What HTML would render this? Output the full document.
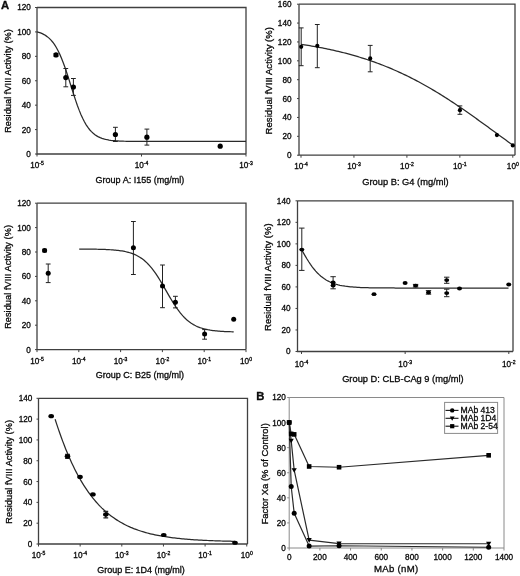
<!DOCTYPE html>
<html><head><meta charset="utf-8"><style>
html,body{margin:0;padding:0;background:#fff;}
body{width:520px;height:576px;overflow:hidden;}
svg{display:block;will-change:transform;font-family:"Liberation Sans", sans-serif;fill:#111;}
text{stroke:#000;stroke-width:0.3px;}
</style></head><body>
<svg width="520" height="576" viewBox="0 0 520 576">
<rect width="520" height="576" fill="#fff"/>
<path d="M37,7.5V154H246" stroke="#404040" stroke-width="1.3" fill="none"/>
<path d="M37,7.5H246V154" stroke="#404040" stroke-width="1.3" fill="none"/>
<path d="M35,154H37" stroke="#404040" stroke-width="1"/>
<text x="30.8" y="156.95" text-anchor="end" font-size="8.2">0</text>
<path d="M35,129.58H37" stroke="#404040" stroke-width="1"/>
<text x="30.8" y="132.54" text-anchor="end" font-size="8.2">20</text>
<path d="M35,105.17H37" stroke="#404040" stroke-width="1"/>
<text x="30.8" y="108.12" text-anchor="end" font-size="8.2">40</text>
<path d="M35,80.75H37" stroke="#404040" stroke-width="1"/>
<text x="30.8" y="83.7" text-anchor="end" font-size="8.2">60</text>
<path d="M35,56.33H37" stroke="#404040" stroke-width="1"/>
<text x="30.8" y="59.29" text-anchor="end" font-size="8.2">80</text>
<path d="M35,31.92H37" stroke="#404040" stroke-width="1"/>
<text x="30.8" y="34.87" text-anchor="end" font-size="8.2">100</text>
<path d="M35,7.5H37" stroke="#404040" stroke-width="1"/>
<text x="30.8" y="10.45" text-anchor="end" font-size="8.2">120</text>
<path d="M37,154V156.5" stroke="#404040" stroke-width="1"/>
<text x="37" y="168" text-anchor="middle" font-size="8.2">10<tspan font-size="5.08" dy="-3">-5</tspan></text>
<path d="M141.5,154V156.5" stroke="#404040" stroke-width="1"/>
<text x="141.5" y="168" text-anchor="middle" font-size="8.2">10<tspan font-size="5.08" dy="-3">-4</tspan></text>
<path d="M246,154V156.5" stroke="#404040" stroke-width="1"/>
<text x="246" y="168" text-anchor="middle" font-size="8.2">10<tspan font-size="5.08" dy="-3">-3</tspan></text>
<text transform="translate(10.8,132.85) rotate(-90)" font-size="9.2" textLength="103.73" lengthAdjust="spacing">Residual fVIII Activity (%)</text>
<text x="95.55" y="182.7" font-size="9" textLength="88.81" lengthAdjust="spacing">Group A: I155 (mg/ml)</text>
<text x="0.9" y="9" font-size="11.3" font-weight="bold">A</text>
<path d="M37,31.84 L38.76,32.35 L40.51,32.95 L42.27,33.69 L44.03,34.57 L45.78,35.62 L47.54,36.89 L49.29,38.39 L51.05,40.16 L52.81,42.25 L54.56,44.68 L56.32,47.5 L58.08,50.73 L59.83,54.38 L61.59,58.45 L63.34,62.94 L65.1,67.81 L66.86,72.99 L68.61,78.41 L70.37,83.96 L72.13,89.55 L73.88,95.06 L75.64,100.38 L77.39,105.43 L79.15,110.13 L80.91,114.44 L82.66,118.32 L84.42,121.78 L86.18,124.82 L87.93,127.46 L89.69,129.73 L91.45,131.68 L93.2,133.32 L94.96,134.71 L96.71,135.88 L98.47,136.85 L100.23,137.66 L101.98,138.34 L103.74,138.89 L105.5,139.35 L107.25,139.74 L109.01,140.05 L110.76,140.31 L112.52,140.52 L114.28,140.69 L116.03,140.84 L117.79,140.95 L119.55,141.05 L121.3,141.13 L123.06,141.19 L124.82,141.25 L126.57,141.29 L128.33,141.33 L130.08,141.36 L131.84,141.38 L133.6,141.4 L135.35,141.42 L137.11,141.43 L138.87,141.44 L140.62,141.45 L142.38,141.46 L144.13,141.46 L145.89,141.47 L147.65,141.47 L149.4,141.47 L151.16,141.48 L152.92,141.48 L154.67,141.48 L156.43,141.48 L158.18,141.48 L159.94,141.48 L161.7,141.48 L163.45,141.48 L165.21,141.49 L166.97,141.49 L168.72,141.49 L170.48,141.49 L172.24,141.49 L173.99,141.49 L175.75,141.49 L177.5,141.49 L179.26,141.49 L181.02,141.49 L182.77,141.49 L184.53,141.49 L186.29,141.49 L188.04,141.49 L189.8,141.49 L191.55,141.49 L193.31,141.49 L195.07,141.49 L196.82,141.49 L198.58,141.49 L200.34,141.49 L202.09,141.49 L203.85,141.49 L205.61,141.49 L207.36,141.49 L209.12,141.49 L210.87,141.49 L212.63,141.49 L214.39,141.49 L216.14,141.49 L217.9,141.49 L219.66,141.49 L221.41,141.49 L223.17,141.49 L224.92,141.49 L226.68,141.49 L228.44,141.49 L230.19,141.49 L231.95,141.49 L233.71,141.49 L235.46,141.49 L237.22,141.49 L238.97,141.49 L240.73,141.49 L242.49,141.49 L244.24,141.49 L246,141.49" stroke="#2a2a2a" stroke-width="1.25" fill="none"/>
<path d="M56,53.6V56.3M53.6,53.6H58.4M53.6,56.3H58.4" stroke="#222" stroke-width="1" fill="none"/>
<circle cx="56" cy="54.9" r="2.6" fill="#000"/>
<path d="M65.8,68.5V86.8M63.4,68.5H68.2M63.4,86.8H68.2" stroke="#222" stroke-width="1" fill="none"/>
<circle cx="65.8" cy="77.6" r="2.6" fill="#000"/>
<path d="M73.4,78.5V95.4M71,78.5H75.8M71,95.4H75.8" stroke="#222" stroke-width="1" fill="none"/>
<circle cx="73.4" cy="87" r="2.6" fill="#000"/>
<path d="M115.4,127.3V141.5M113,127.3H117.8M113,141.5H117.8" stroke="#222" stroke-width="1" fill="none"/>
<circle cx="115.4" cy="134.5" r="2.6" fill="#000"/>
<path d="M146.9,129.1V145.1M144.5,129.1H149.3M144.5,145.1H149.3" stroke="#222" stroke-width="1" fill="none"/>
<circle cx="146.9" cy="137.2" r="2.6" fill="#000"/>
<circle cx="220.2" cy="146.2" r="2.6" fill="#000"/>
<path d="M299,4.2V155.2H515" stroke="#404040" stroke-width="1.3" fill="none"/>
<path d="M299,4.2H515V155.2" stroke="#404040" stroke-width="1.3" fill="none"/>
<path d="M297,155.2H299" stroke="#404040" stroke-width="1"/>
<text x="291.5" y="158.15" text-anchor="end" font-size="8.2">0</text>
<path d="M297,136.32H299" stroke="#404040" stroke-width="1"/>
<text x="291.5" y="139.28" text-anchor="end" font-size="8.2">20</text>
<path d="M297,117.45H299" stroke="#404040" stroke-width="1"/>
<text x="291.5" y="120.4" text-anchor="end" font-size="8.2">40</text>
<path d="M297,98.57H299" stroke="#404040" stroke-width="1"/>
<text x="291.5" y="101.53" text-anchor="end" font-size="8.2">60</text>
<path d="M297,79.7H299" stroke="#404040" stroke-width="1"/>
<text x="291.5" y="82.65" text-anchor="end" font-size="8.2">80</text>
<path d="M297,60.82H299" stroke="#404040" stroke-width="1"/>
<text x="291.5" y="63.78" text-anchor="end" font-size="8.2">100</text>
<path d="M297,41.95H299" stroke="#404040" stroke-width="1"/>
<text x="291.5" y="44.9" text-anchor="end" font-size="8.2">120</text>
<path d="M297,23.07H299" stroke="#404040" stroke-width="1"/>
<text x="291.5" y="26.03" text-anchor="end" font-size="8.2">140</text>
<path d="M297,4.2H299" stroke="#404040" stroke-width="1"/>
<text x="291.5" y="7.15" text-anchor="end" font-size="8.2">160</text>
<path d="M301,155.2V157.7" stroke="#404040" stroke-width="1"/>
<text x="301" y="169" text-anchor="middle" font-size="8.2">10<tspan font-size="5.08" dy="-3">-4</tspan></text>
<path d="M353.95,155.2V157.7" stroke="#404040" stroke-width="1"/>
<text x="353.95" y="169" text-anchor="middle" font-size="8.2">10<tspan font-size="5.08" dy="-3">-3</tspan></text>
<path d="M406.9,155.2V157.7" stroke="#404040" stroke-width="1"/>
<text x="406.9" y="169" text-anchor="middle" font-size="8.2">10<tspan font-size="5.08" dy="-3">-2</tspan></text>
<path d="M459.85,155.2V157.7" stroke="#404040" stroke-width="1"/>
<text x="459.85" y="169" text-anchor="middle" font-size="8.2">10<tspan font-size="5.08" dy="-3">-1</tspan></text>
<path d="M512.8,155.2V157.7" stroke="#404040" stroke-width="1"/>
<text x="512.8" y="169" text-anchor="middle" font-size="8.2">10<tspan font-size="5.08" dy="-3">0</tspan></text>
<text transform="translate(271.8,134.38) rotate(-90)" font-size="9.5" textLength="107.37" lengthAdjust="spacing">Residual fVIII Activity (%)</text>
<text x="362.23" y="184.7" font-size="9.3" textLength="86.44" lengthAdjust="spacing">Group B: G4 (mg/ml)</text>
<path d="M301,44.31 L302.78,44.57 L304.56,44.85 L306.34,45.13 L308.13,45.42 L309.91,45.71 L311.69,46.01 L313.47,46.32 L315.25,46.64 L317.03,46.96 L318.82,47.29 L320.6,47.63 L322.38,47.97 L324.16,48.32 L325.94,48.68 L327.72,49.05 L329.5,49.43 L331.29,49.82 L333.07,50.21 L334.85,50.61 L336.63,51.02 L338.41,51.44 L340.19,51.87 L341.97,52.31 L343.76,52.76 L345.54,53.22 L347.32,53.68 L349.1,54.16 L350.88,54.65 L352.66,55.15 L354.45,55.65 L356.23,56.17 L358.01,56.7 L359.79,57.24 L361.57,57.79 L363.35,58.35 L365.13,58.92 L366.92,59.51 L368.7,60.1 L370.48,60.71 L372.26,61.33 L374.04,61.96 L375.82,62.6 L377.61,63.25 L379.39,63.92 L381.17,64.6 L382.95,65.29 L384.73,65.99 L386.51,66.71 L388.29,67.44 L390.08,68.18 L391.86,68.93 L393.64,69.7 L395.42,70.48 L397.2,71.27 L398.98,72.07 L400.76,72.89 L402.55,73.72 L404.33,74.57 L406.11,75.42 L407.89,76.29 L409.67,77.18 L411.45,78.07 L413.24,78.98 L415.02,79.91 L416.8,80.84 L418.58,81.79 L420.36,82.75 L422.14,83.73 L423.92,84.71 L425.71,85.71 L427.49,86.73 L429.27,87.75 L431.05,88.79 L432.83,89.84 L434.61,90.9 L436.39,91.97 L438.18,93.06 L439.96,94.15 L441.74,95.26 L443.52,96.38 L445.3,97.51 L447.08,98.65 L448.87,99.8 L450.65,100.96 L452.43,102.13 L454.21,103.31 L455.99,104.5 L457.77,105.7 L459.55,106.91 L461.34,108.12 L463.12,109.35 L464.9,110.58 L466.68,111.82 L468.46,113.06 L470.24,114.31 L472.03,115.57 L473.81,116.84 L475.59,118.11 L477.37,119.38 L479.15,120.66 L480.93,121.94 L482.71,123.23 L484.5,124.52 L486.28,125.82 L488.06,127.11 L489.84,128.41 L491.62,129.71 L493.4,131.01 L495.18,132.32 L496.97,133.62 L498.75,134.92 L500.53,136.22 L502.31,137.52 L504.09,138.82 L505.87,140.12 L507.66,141.41 L509.44,142.71 L511.22,144 L513,145.28" stroke="#2a2a2a" stroke-width="1.25" fill="none"/>
<path d="M301.2,27.9V65.7M298.8,27.9H303.6M298.8,65.7H303.6" stroke="#222" stroke-width="1" fill="none"/>
<circle cx="301.2" cy="46.8" r="2.1" fill="#000"/>
<path d="M317.3,24.5V67.7M314.9,24.5H319.7M314.9,67.7H319.7" stroke="#222" stroke-width="1" fill="none"/>
<circle cx="317.3" cy="45.8" r="2.1" fill="#000"/>
<path d="M370.2,45.4V71.8M367.8,45.4H372.6M367.8,71.8H372.6" stroke="#222" stroke-width="1" fill="none"/>
<circle cx="370.2" cy="58.4" r="2.1" fill="#000"/>
<path d="M459.9,105.9V114.3M457.5,105.9H462.3M457.5,114.3H462.3" stroke="#222" stroke-width="1" fill="none"/>
<circle cx="459.9" cy="110.2" r="2.1" fill="#000"/>
<circle cx="496.9" cy="135.1" r="2.1" fill="#000"/>
<circle cx="512.8" cy="145.4" r="2.1" fill="#000"/>
<path d="M37,203.2V349.6H246" stroke="#404040" stroke-width="1.3" fill="none"/>
<path d="M37,203.2H246V349.6" stroke="#404040" stroke-width="1.3" fill="none"/>
<path d="M35,349.6H37" stroke="#404040" stroke-width="1"/>
<text x="30.8" y="352.55" text-anchor="end" font-size="8.2">0</text>
<path d="M35,325.2H37" stroke="#404040" stroke-width="1"/>
<text x="30.8" y="328.15" text-anchor="end" font-size="8.2">20</text>
<path d="M35,300.8H37" stroke="#404040" stroke-width="1"/>
<text x="30.8" y="303.75" text-anchor="end" font-size="8.2">40</text>
<path d="M35,276.4H37" stroke="#404040" stroke-width="1"/>
<text x="30.8" y="279.35" text-anchor="end" font-size="8.2">60</text>
<path d="M35,252H37" stroke="#404040" stroke-width="1"/>
<text x="30.8" y="254.95" text-anchor="end" font-size="8.2">80</text>
<path d="M35,227.6H37" stroke="#404040" stroke-width="1"/>
<text x="30.8" y="230.55" text-anchor="end" font-size="8.2">100</text>
<path d="M35,203.2H37" stroke="#404040" stroke-width="1"/>
<text x="30.8" y="206.15" text-anchor="end" font-size="8.2">120</text>
<path d="M37,349.6V352.1" stroke="#404040" stroke-width="1"/>
<text x="37" y="363.5" text-anchor="middle" font-size="8.2">10<tspan font-size="5.08" dy="-3">-5</tspan></text>
<path d="M78.8,349.6V352.1" stroke="#404040" stroke-width="1"/>
<text x="78.8" y="363.5" text-anchor="middle" font-size="8.2">10<tspan font-size="5.08" dy="-3">-4</tspan></text>
<path d="M120.6,349.6V352.1" stroke="#404040" stroke-width="1"/>
<text x="120.6" y="363.5" text-anchor="middle" font-size="8.2">10<tspan font-size="5.08" dy="-3">-3</tspan></text>
<path d="M162.4,349.6V352.1" stroke="#404040" stroke-width="1"/>
<text x="162.4" y="363.5" text-anchor="middle" font-size="8.2">10<tspan font-size="5.08" dy="-3">-2</tspan></text>
<path d="M204.2,349.6V352.1" stroke="#404040" stroke-width="1"/>
<text x="204.2" y="363.5" text-anchor="middle" font-size="8.2">10<tspan font-size="5.08" dy="-3">-1</tspan></text>
<path d="M246,349.6V352.1" stroke="#404040" stroke-width="1"/>
<text x="246" y="363.5" text-anchor="middle" font-size="8.2">10<tspan font-size="5.08" dy="-3">0</tspan></text>
<text transform="translate(10.8,328.85) rotate(-90)" font-size="9.2" textLength="103.83" lengthAdjust="spacing">Residual fVIII Activity (%)</text>
<text x="95.75" y="378.3" font-size="9" textLength="88.31" lengthAdjust="spacing">Group C: B25 (mg/ml)</text>
<path d="M79.2,249.05 L80.5,249.05 L81.8,249.06 L83.09,249.07 L84.39,249.08 L85.69,249.09 L86.99,249.1 L88.29,249.11 L89.59,249.12 L90.88,249.14 L92.18,249.16 L93.48,249.17 L94.78,249.2 L96.08,249.22 L97.38,249.25 L98.67,249.28 L99.97,249.31 L101.27,249.34 L102.57,249.39 L103.87,249.43 L105.17,249.48 L106.46,249.54 L107.76,249.6 L109.06,249.67 L110.36,249.75 L111.66,249.84 L112.96,249.93 L114.25,250.04 L115.55,250.16 L116.85,250.29 L118.15,250.44 L119.45,250.6 L120.75,250.79 L122.04,250.99 L123.34,251.21 L124.64,251.46 L125.94,251.74 L127.24,252.05 L128.54,252.38 L129.83,252.76 L131.13,253.17 L132.43,253.63 L133.73,254.13 L135.03,254.69 L136.33,255.29 L137.62,255.96 L138.92,256.69 L140.22,257.49 L141.52,258.36 L142.82,259.31 L144.12,260.34 L145.41,261.46 L146.71,262.66 L148.01,263.95 L149.31,265.34 L150.61,266.83 L151.91,268.41 L153.2,270.08 L154.5,271.85 L155.8,273.7 L157.1,275.64 L158.4,277.66 L159.7,279.75 L160.99,281.9 L162.29,284.09 L163.59,286.33 L164.89,288.59 L166.19,290.86 L167.49,293.13 L168.78,295.38 L170.08,297.6 L171.38,299.79 L172.68,301.92 L173.98,303.99 L175.28,305.99 L176.57,307.9 L177.87,309.74 L179.17,311.48 L180.47,313.13 L181.77,314.68 L183.07,316.14 L184.36,317.5 L185.66,318.77 L186.96,319.95 L188.26,321.04 L189.56,322.05 L190.86,322.97 L192.15,323.83 L193.45,324.61 L194.75,325.32 L196.05,325.97 L197.35,326.56 L198.65,327.1 L199.94,327.59 L201.24,328.03 L202.54,328.44 L203.84,328.8 L205.14,329.13 L206.44,329.43 L207.73,329.7 L209.03,329.94 L210.33,330.16 L211.63,330.35 L212.93,330.53 L214.23,330.69 L215.52,330.83 L216.82,330.96 L218.12,331.08 L219.42,331.18 L220.72,331.28 L222.02,331.36 L223.31,331.44 L224.61,331.51 L225.91,331.57 L227.21,331.62 L228.51,331.67 L229.81,331.72 L231.1,331.75 L232.4,331.79 L233.7,331.82" stroke="#2a2a2a" stroke-width="1.25" fill="none"/>
<path d="M44.6,249.2V251.8M42.2,249.2H47M42.2,251.8H47" stroke="#222" stroke-width="1" fill="none"/>
<circle cx="44.6" cy="250.6" r="2.5" fill="#000"/>
<path d="M48.2,264V282.6M45.8,264H50.6M45.8,282.6H50.6" stroke="#222" stroke-width="1" fill="none"/>
<circle cx="48.2" cy="273.3" r="2.5" fill="#000"/>
<path d="M133.4,221.5V274.5M131,221.5H135.8M131,274.5H135.8" stroke="#222" stroke-width="1" fill="none"/>
<circle cx="133.4" cy="247.7" r="2.5" fill="#000"/>
<path d="M162.5,265V307.7M160.1,265H164.9M160.1,307.7H164.9" stroke="#222" stroke-width="1" fill="none"/>
<circle cx="162.5" cy="286.1" r="2.5" fill="#000"/>
<path d="M175.4,296.3V307.9M173,296.3H177.8M173,307.9H177.8" stroke="#222" stroke-width="1" fill="none"/>
<circle cx="175.4" cy="302.3" r="2.5" fill="#000"/>
<path d="M204.6,329.6V339.2M202.2,329.6H207M202.2,339.2H207" stroke="#222" stroke-width="1" fill="none"/>
<circle cx="204.6" cy="334" r="2.5" fill="#000"/>
<circle cx="233.7" cy="319.2" r="2.5" fill="#000"/>
<path d="M297.5,200.8V351.5H513" stroke="#404040" stroke-width="1.3" fill="none"/>
<path d="M297.5,200.8H513V351.5" stroke="#404040" stroke-width="1.3" fill="none"/>
<path d="M295.5,351.5H297.5" stroke="#404040" stroke-width="1"/>
<text x="290.5" y="354.45" text-anchor="end" font-size="8.2">0</text>
<path d="M295.5,329.97H297.5" stroke="#404040" stroke-width="1"/>
<text x="290.5" y="332.92" text-anchor="end" font-size="8.2">20</text>
<path d="M295.5,308.44H297.5" stroke="#404040" stroke-width="1"/>
<text x="290.5" y="311.39" text-anchor="end" font-size="8.2">40</text>
<path d="M295.5,286.91H297.5" stroke="#404040" stroke-width="1"/>
<text x="290.5" y="289.87" text-anchor="end" font-size="8.2">60</text>
<path d="M295.5,265.39H297.5" stroke="#404040" stroke-width="1"/>
<text x="290.5" y="268.34" text-anchor="end" font-size="8.2">80</text>
<path d="M295.5,243.86H297.5" stroke="#404040" stroke-width="1"/>
<text x="290.5" y="246.81" text-anchor="end" font-size="8.2">100</text>
<path d="M295.5,222.33H297.5" stroke="#404040" stroke-width="1"/>
<text x="290.5" y="225.28" text-anchor="end" font-size="8.2">120</text>
<path d="M295.5,200.8H297.5" stroke="#404040" stroke-width="1"/>
<text x="290.5" y="203.75" text-anchor="end" font-size="8.2">140</text>
<path d="M301.5,351.5V354" stroke="#404040" stroke-width="1"/>
<text x="301.5" y="366.5" text-anchor="middle" font-size="8.2">10<tspan font-size="5.08" dy="-3">-4</tspan></text>
<path d="M405.15,351.5V354" stroke="#404040" stroke-width="1"/>
<text x="405.15" y="366.5" text-anchor="middle" font-size="8.2">10<tspan font-size="5.08" dy="-3">-3</tspan></text>
<path d="M508.8,351.5V354" stroke="#404040" stroke-width="1"/>
<text x="508.8" y="366.5" text-anchor="middle" font-size="8.2">10<tspan font-size="5.08" dy="-3">-2</tspan></text>
<text transform="translate(270.5,330.98) rotate(-90)" font-size="9.5" textLength="107.67" lengthAdjust="spacing">Residual fVIII Activity (%)</text>
<text x="342.13" y="381.5" font-size="9.3" textLength="121.54" lengthAdjust="spacing">Group D: CLB-CAg 9 (mg/ml)</text>
<path d="M301.8,249.94 L303.54,253.08 L305.27,256.11 L307.01,259.02 L308.75,261.77 L310.48,264.36 L312.22,266.77 L313.96,269.01 L315.7,271.07 L317.43,272.95 L319.17,274.66 L320.91,276.2 L322.64,277.59 L324.38,278.84 L326.12,279.95 L327.85,280.93 L329.59,281.81 L331.33,282.59 L333.07,283.27 L334.8,283.87 L336.54,284.4 L338.28,284.86 L340.01,285.27 L341.75,285.63 L343.49,285.94 L345.22,286.21 L346.96,286.44 L348.7,286.65 L350.44,286.83 L352.17,286.99 L353.91,287.12 L355.65,287.24 L357.38,287.35 L359.12,287.44 L360.86,287.51 L362.59,287.58 L364.33,287.64 L366.07,287.69 L367.81,287.74 L369.54,287.77 L371.28,287.81 L373.02,287.84 L374.75,287.86 L376.49,287.88 L378.23,287.9 L379.96,287.92 L381.7,287.93 L383.44,287.95 L385.17,287.96 L386.91,287.97 L388.65,287.98 L390.39,287.98 L392.12,287.99 L393.86,287.99 L395.6,288 L397.33,288 L399.07,288.01 L400.81,288.01 L402.54,288.01 L404.28,288.01 L406.02,288.02 L407.76,288.02 L409.49,288.02 L411.23,288.02 L412.97,288.02 L414.7,288.02 L416.44,288.02 L418.18,288.02 L419.91,288.02 L421.65,288.02 L423.39,288.03 L425.13,288.03 L426.86,288.03 L428.6,288.03 L430.34,288.03 L432.07,288.03 L433.81,288.03 L435.55,288.03 L437.28,288.03 L439.02,288.03 L440.76,288.03 L442.49,288.03 L444.23,288.03 L445.97,288.03 L447.71,288.03 L449.44,288.03 L451.18,288.03 L452.92,288.03 L454.65,288.03 L456.39,288.03 L458.13,288.03 L459.86,288.03 L461.6,288.03 L463.34,288.03 L465.08,288.03 L466.81,288.03 L468.55,288.03 L470.29,288.03 L472.02,288.03 L473.76,288.03 L475.5,288.03 L477.23,288.03 L478.97,288.03 L480.71,288.03 L482.45,288.03 L484.18,288.03 L485.92,288.03 L487.66,288.03 L489.39,288.03 L491.13,288.03 L492.87,288.03 L494.6,288.03 L496.34,288.03 L498.08,288.03 L499.82,288.03 L501.55,288.03 L503.29,288.03 L505.03,288.03 L506.76,288.03 L508.5,288.03" stroke="#2a2a2a" stroke-width="1.25" fill="none"/>
<path d="M301.8,228.1V270.4M299.1,228.1H304.5M299.1,270.4H304.5" stroke="#222" stroke-width="1" fill="none"/>
<ellipse cx="301.8" cy="249.6" rx="2.5" ry="1.9" fill="#000"/>
<path d="M333.1,276.7V288.8M330.4,276.7H335.8M330.4,288.8H335.8" stroke="#222" stroke-width="1" fill="none"/>
<ellipse cx="333.1" cy="282.5" rx="2.5" ry="1.9" fill="#000"/>
<ellipse cx="333.1" cy="285.5" rx="2.5" ry="1.9" fill="#000"/>
<ellipse cx="374" cy="294.2" rx="2.5" ry="1.9" fill="#000"/>
<ellipse cx="405.1" cy="283" rx="2.5" ry="1.9" fill="#000"/>
<path d="M415.6,284.4V287M412.9,284.4H418.3M412.9,287H418.3" stroke="#222" stroke-width="1" fill="none"/>
<ellipse cx="415.6" cy="285.6" rx="2.5" ry="1.9" fill="#000"/>
<path d="M428.5,290.6V294.2M425.8,290.6H431.2M425.8,294.2H431.2" stroke="#222" stroke-width="1" fill="none"/>
<ellipse cx="428.5" cy="292.4" rx="2.5" ry="1.9" fill="#000"/>
<path d="M446.7,277.2V283.3M444,277.2H449.4M444,283.3H449.4" stroke="#222" stroke-width="1" fill="none"/>
<ellipse cx="446.7" cy="280.1" rx="2.5" ry="1.9" fill="#000"/>
<path d="M446.7,289.2V296.7M444,289.2H449.4M444,296.7H449.4" stroke="#222" stroke-width="1" fill="none"/>
<ellipse cx="446.7" cy="293.1" rx="2.5" ry="1.9" fill="#000"/>
<ellipse cx="459.5" cy="288.5" rx="2.5" ry="1.9" fill="#000"/>
<ellipse cx="508.75" cy="284.5" rx="2.5" ry="1.9" fill="#000"/>
<path d="M38.5,398.3V544H247.5" stroke="#404040" stroke-width="1.3" fill="none"/>
<path d="M38.5,398.3H247.5V544" stroke="#404040" stroke-width="1.3" fill="none"/>
<path d="M36.5,544H38.5" stroke="#404040" stroke-width="1"/>
<text x="32.3" y="546.95" text-anchor="end" font-size="8.2">0</text>
<path d="M36.5,523.19H38.5" stroke="#404040" stroke-width="1"/>
<text x="32.3" y="526.14" text-anchor="end" font-size="8.2">20</text>
<path d="M36.5,502.37H38.5" stroke="#404040" stroke-width="1"/>
<text x="32.3" y="505.32" text-anchor="end" font-size="8.2">40</text>
<path d="M36.5,481.56H38.5" stroke="#404040" stroke-width="1"/>
<text x="32.3" y="484.51" text-anchor="end" font-size="8.2">60</text>
<path d="M36.5,460.74H38.5" stroke="#404040" stroke-width="1"/>
<text x="32.3" y="463.69" text-anchor="end" font-size="8.2">80</text>
<path d="M36.5,439.93H38.5" stroke="#404040" stroke-width="1"/>
<text x="32.3" y="442.88" text-anchor="end" font-size="8.2">100</text>
<path d="M36.5,419.11H38.5" stroke="#404040" stroke-width="1"/>
<text x="32.3" y="422.07" text-anchor="end" font-size="8.2">120</text>
<path d="M36.5,398.3H38.5" stroke="#404040" stroke-width="1"/>
<text x="32.3" y="401.25" text-anchor="end" font-size="8.2">140</text>
<path d="M38.5,544V546.5" stroke="#404040" stroke-width="1"/>
<text x="38.5" y="558" text-anchor="middle" font-size="8.2">10<tspan font-size="5.08" dy="-3">-5</tspan></text>
<path d="M80.15,544V546.5" stroke="#404040" stroke-width="1"/>
<text x="80.15" y="558" text-anchor="middle" font-size="8.2">10<tspan font-size="5.08" dy="-3">-4</tspan></text>
<path d="M121.8,544V546.5" stroke="#404040" stroke-width="1"/>
<text x="121.8" y="558" text-anchor="middle" font-size="8.2">10<tspan font-size="5.08" dy="-3">-3</tspan></text>
<path d="M163.45,544V546.5" stroke="#404040" stroke-width="1"/>
<text x="163.45" y="558" text-anchor="middle" font-size="8.2">10<tspan font-size="5.08" dy="-3">-2</tspan></text>
<path d="M205.1,544V546.5" stroke="#404040" stroke-width="1"/>
<text x="205.1" y="558" text-anchor="middle" font-size="8.2">10<tspan font-size="5.08" dy="-3">-1</tspan></text>
<path d="M246.75,544V546.5" stroke="#404040" stroke-width="1"/>
<text x="246.75" y="558" text-anchor="middle" font-size="8.2">10<tspan font-size="5.08" dy="-3">0</tspan></text>
<text transform="translate(11.8,523.65) rotate(-90)" font-size="9.2" textLength="103.63" lengthAdjust="spacing">Residual fVIII Activity (%)</text>
<text x="97.35" y="572.6" font-size="9" textLength="87.41" lengthAdjust="spacing">Group E: 1D4 (mg/ml)</text>
<path d="M55.1,419.19 L56.61,423.88 L58.12,428.41 L59.64,432.8 L61.15,437.04 L62.66,441.13 L64.17,445.09 L65.68,448.91 L67.19,452.6 L68.71,456.16 L70.22,459.59 L71.73,462.9 L73.24,466.09 L74.75,469.16 L76.26,472.12 L77.78,474.97 L79.29,477.71 L80.8,480.35 L82.31,482.89 L83.82,485.33 L85.34,487.67 L86.85,489.93 L88.36,492.1 L89.87,494.18 L91.38,496.18 L92.89,498.1 L94.41,499.95 L95.92,501.72 L97.43,503.42 L98.94,505.05 L100.45,506.62 L101.96,508.12 L103.48,509.56 L104.99,510.94 L106.5,512.27 L108.01,513.54 L109.52,514.75 L111.04,515.92 L112.55,517.04 L114.06,518.11 L115.57,519.14 L117.08,520.12 L118.59,521.07 L120.11,521.97 L121.62,522.83 L123.13,523.66 L124.64,524.46 L126.15,525.22 L127.66,525.94 L129.18,526.64 L130.69,527.31 L132.2,527.94 L133.71,528.56 L135.22,529.14 L136.74,529.7 L138.25,530.24 L139.76,530.75 L141.27,531.24 L142.78,531.71 L144.29,532.16 L145.81,532.59 L147.32,533 L148.83,533.39 L150.34,533.77 L151.85,534.13 L153.36,534.47 L154.88,534.8 L156.39,535.12 L157.9,535.42 L159.41,535.71 L160.92,535.98 L162.44,536.25 L163.95,536.5 L165.46,536.74 L166.97,536.97 L168.48,537.19 L169.99,537.4 L171.51,537.6 L173.02,537.79 L174.53,537.98 L176.04,538.16 L177.55,538.32 L179.06,538.49 L180.58,538.64 L182.09,538.79 L183.6,538.93 L185.11,539.06 L186.62,539.19 L188.14,539.31 L189.65,539.43 L191.16,539.54 L192.67,539.65 L194.18,539.76 L195.69,539.85 L197.21,539.95 L198.72,540.04 L200.23,540.12 L201.74,540.21 L203.25,540.28 L204.76,540.36 L206.28,540.43 L207.79,540.5 L209.3,540.57 L210.81,540.63 L212.32,540.69 L213.84,540.75 L215.35,540.8 L216.86,540.85 L218.37,540.9 L219.88,540.95 L221.39,541 L222.91,541.04 L224.42,541.08 L225.93,541.12 L227.44,541.16 L228.95,541.2 L230.46,541.23 L231.98,541.26 L233.49,541.3 L235,541.33" stroke="#2a2a2a" stroke-width="1.25" fill="none"/>
<ellipse cx="51.2" cy="416.2" rx="2.8" ry="2.1" fill="#000"/>
<path d="M67.5,454.5V458.3M65.1,454.5H69.9M65.1,458.3H69.9" stroke="#222" stroke-width="1.4" fill="none"/>
<ellipse cx="67.5" cy="456.3" rx="2.8" ry="2.1" fill="#000"/>
<ellipse cx="80" cy="476.9" rx="2.8" ry="2.1" fill="#000"/>
<ellipse cx="92.9" cy="494.4" rx="2.8" ry="2.1" fill="#000"/>
<path d="M105.8,511.5V517.9M103.4,511.5H108.2M103.4,517.9H108.2" stroke="#222" stroke-width="1.4" fill="none"/>
<ellipse cx="105.8" cy="514.6" rx="2.8" ry="2.1" fill="#000"/>
<ellipse cx="163.75" cy="535" rx="2.8" ry="2.1" fill="#000"/>
<ellipse cx="235" cy="542.75" rx="2.8" ry="2.1" fill="#000"/>
<path d="M289.2,397.5V548H504" stroke="#8a8a8a" stroke-width="1" fill="none"/>
<path d="M289.2,397.5H504V548" stroke="#8a8a8a" stroke-width="1" fill="none"/>
<path d="M287.2,548H289.2" stroke="#8a8a8a" stroke-width="1"/>
<text x="285.8" y="550.95" text-anchor="end" font-size="8.2">0</text>
<path d="M287.2,522.92H289.2" stroke="#8a8a8a" stroke-width="1"/>
<text x="285.8" y="525.87" text-anchor="end" font-size="8.2">20</text>
<path d="M287.2,497.83H289.2" stroke="#8a8a8a" stroke-width="1"/>
<text x="285.8" y="500.79" text-anchor="end" font-size="8.2">40</text>
<path d="M287.2,472.75H289.2" stroke="#8a8a8a" stroke-width="1"/>
<text x="285.8" y="475.7" text-anchor="end" font-size="8.2">60</text>
<path d="M287.2,447.67H289.2" stroke="#8a8a8a" stroke-width="1"/>
<text x="285.8" y="450.62" text-anchor="end" font-size="8.2">80</text>
<path d="M287.2,422.58H289.2" stroke="#8a8a8a" stroke-width="1"/>
<text x="285.8" y="425.54" text-anchor="end" font-size="8.2">100</text>
<path d="M287.2,397.5H289.2" stroke="#8a8a8a" stroke-width="1"/>
<text x="285.8" y="400.45" text-anchor="end" font-size="8.2">120</text>
<path d="M289.2,548V550.5" stroke="#8a8a8a" stroke-width="1"/>
<text x="289.2" y="559.5" text-anchor="middle" font-size="8.2">0</text>
<path d="M319.89,548V550.5" stroke="#8a8a8a" stroke-width="1"/>
<text x="319.89" y="559.5" text-anchor="middle" font-size="8.2">200</text>
<path d="M350.57,548V550.5" stroke="#8a8a8a" stroke-width="1"/>
<text x="350.57" y="559.5" text-anchor="middle" font-size="8.2">400</text>
<path d="M381.26,548V550.5" stroke="#8a8a8a" stroke-width="1"/>
<text x="381.26" y="559.5" text-anchor="middle" font-size="8.2">600</text>
<path d="M411.94,548V550.5" stroke="#8a8a8a" stroke-width="1"/>
<text x="411.94" y="559.5" text-anchor="middle" font-size="8.2">800</text>
<path d="M442.63,548V550.5" stroke="#8a8a8a" stroke-width="1"/>
<text x="442.63" y="559.5" text-anchor="middle" font-size="8.2">1000</text>
<path d="M473.31,548V550.5" stroke="#8a8a8a" stroke-width="1"/>
<text x="473.31" y="559.5" text-anchor="middle" font-size="8.2">1200</text>
<path d="M504,548V550.5" stroke="#8a8a8a" stroke-width="1"/>
<text x="504" y="559.5" text-anchor="middle" font-size="8.2">1400</text>
<text transform="translate(268.1,524.37) rotate(-90)" font-size="9.4" textLength="101.15" lengthAdjust="spacing">Factor Xa (% of Control)</text>
<text x="374.01" y="571.8" font-size="9.6" textLength="44.18" lengthAdjust="spacing">MAb (nM)</text>
<text x="256.3" y="400" font-size="11.3" font-weight="bold">B</text>
<path d="M289.2,422.58 L291.19,433.87 L294.19,434.37 L309.15,466.48 L339.06,467.23 L488.66,455.32" stroke="#2a2a2a" stroke-width="1.2" fill="none" stroke-linejoin="round"/>
<path d="M289.2,422.58 L291.19,440.64 L294.19,470.24 L309.15,540.1 L339.06,543.61 L488.66,543.74" stroke="#2a2a2a" stroke-width="1.2" fill="none" stroke-linejoin="round"/>
<path d="M289.2,422.58 L291.19,486.55 L294.19,513.13 L309.15,546.12 L339.06,545.74 L488.66,547.25" stroke="#2a2a2a" stroke-width="1.2" fill="none" stroke-linejoin="round"/>
<rect x="286.9" y="420.28" width="4.6" height="4.6" fill="#000"/>
<rect x="288.89" y="431.57" width="4.6" height="4.6" fill="#000"/>
<rect x="291.89" y="432.07" width="4.6" height="4.6" fill="#000"/>
<rect x="306.85" y="464.18" width="4.6" height="4.6" fill="#000"/>
<rect x="336.76" y="464.93" width="4.6" height="4.6" fill="#000"/>
<rect x="486.36" y="453.02" width="4.6" height="4.6" fill="#000"/>
<path d="M286.6,420.58H291.8L289.2,425.18Z" fill="#000"/>
<path d="M288.59,438.64H293.79L291.19,443.24Z" fill="#000"/>
<path d="M291.59,468.24H296.79L294.19,472.84Z" fill="#000"/>
<path d="M306.55,538.1H311.75L309.15,542.7Z" fill="#000"/>
<path d="M336.46,541.61H341.66L339.06,546.21Z" fill="#000"/>
<path d="M486.06,541.74H491.26L488.66,546.34Z" fill="#000"/>
<circle cx="289.2" cy="422.58" r="2.5" fill="#000"/>
<circle cx="291.19" cy="486.55" r="2.5" fill="#000"/>
<circle cx="294.19" cy="513.13" r="2.5" fill="#000"/>
<circle cx="309.15" cy="546.12" r="2.5" fill="#000"/>
<circle cx="339.06" cy="545.74" r="2.5" fill="#000"/>
<circle cx="488.66" cy="547.25" r="2.5" fill="#000"/>
<rect x="444.6" y="402.4" width="53" height="31" fill="#fff" stroke="#8a8a8a" stroke-width="1"/>
<path d="M445.5,410.4H458.5" stroke="#111" stroke-width="1.1"/>
<circle cx="452.2" cy="410.4" r="2.2" fill="#000"/>
<text x="460.5" y="413.4" font-size="8.6">MAb 413</text>
<path d="M445.5,418.3H458.5" stroke="#111" stroke-width="1.1"/>
<path d="M449.8,416.5H454.6L452.2,420.7Z" fill="#000"/>
<text x="460.5" y="421.3" font-size="8.6">MAb 1D4</text>
<path d="M445.5,426.2H458.5" stroke="#111" stroke-width="1.1"/>
<rect x="450.1" y="424.1" width="4.2" height="4.2" fill="#000"/>
<text x="460.5" y="429.2" font-size="8.6">MAb 2-54</text>
</svg>
</body></html>
